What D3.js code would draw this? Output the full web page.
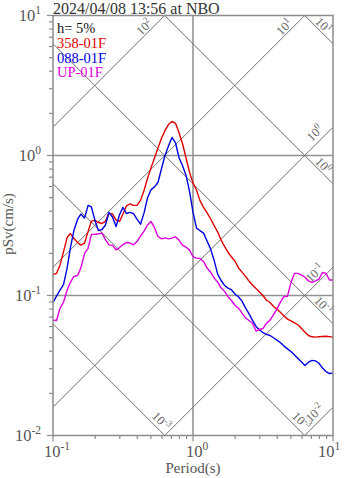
<!DOCTYPE html>
<html>
<head>
<meta charset="utf-8">
<script src="https://cdn.jsdelivr.net/npm/d3@7"></script>
<style>
  html, body { margin: 0; padding: 0; background: #fff; }
  svg { display: block; }
  text { font-family: "Liberation Serif", "Times New Roman", serif; }
</style>
</head>
<body>
<svg id="chart" width="347" height="478"></svg>
<script>
// Pseudo-velocity response spectra (h = 5%), tripartite log-log plot.

// Natural periods (s)
const periods = [0.100,0.106,0.112,0.119,0.126,0.133,0.141,0.150,0.158,0.168,
  0.178,0.188,0.200,0.211,0.224,0.237,0.251,0.266,0.282,0.299,
  0.316,0.335,0.355,0.376,0.398,0.422,0.447,0.473,0.501,0.531,
  0.562,0.596,0.631,0.668,0.708,0.750,0.794,0.841,0.891,0.944,
  1.00,1.06,1.12,1.19,1.26,1.33,1.41,1.50,1.58,1.68,
  1.78,1.88,2.00,2.11,2.24,2.37,2.51,2.66,2.82,2.99,
  3.16,3.35,3.55,3.76,3.98,4.22,4.47,4.73,5.01,5.31,
  5.62,5.96,6.31,6.68,7.08,7.50,7.94,8.41,8.91,9.44,10.0];

// pSv (cm/s) per component
const psv358 = [0.141,0.144,0.164,0.206,0.259,0.277,0.255,0.239,0.229,0.237,
  0.286,0.340,0.344,0.332,0.327,0.340,0.386,0.383,0.346,0.338,
  0.382,0.437,0.451,0.440,0.440,0.478,0.562,0.686,0.813,0.959,
  1.132,1.327,1.510,1.664,1.750,1.698,1.459,1.219,0.964,0.762,
  0.635,0.566,0.478,0.426,0.390,0.356,0.318,0.284,0.252,0.224,
  0.203,0.189,0.175,0.158,0.147,0.137,0.127,0.119,0.112,0.106,
  0.100,0.0925,0.0891,0.0834,0.0800,0.0757,0.0714,0.0678,0.0658,0.0638,
  0.0618,0.0581,0.0547,0.0518,0.0507,0.0504,0.0508,0.0510,0.0512,0.0508,0.0504];

const psv088 = [0.0891,0.0991,0.109,0.120,0.156,0.218,0.291,0.351,0.382,0.358,
  0.440,0.429,0.340,0.291,0.296,0.319,0.392,0.364,0.311,0.379,
  0.426,0.385,0.392,0.384,0.351,0.323,0.389,0.497,0.569,0.597,
  0.641,0.807,1.000,1.169,1.345,1.233,0.968,0.849,0.724,0.557,
  0.394,0.303,0.291,0.279,0.245,0.217,0.181,0.142,0.129,0.118,
  0.113,0.110,0.102,0.0980,0.0912,0.0815,0.0743,0.0664,0.0601,0.0567,
  0.0544,0.0528,0.0518,0.0499,0.0480,0.0460,0.0435,0.0416,0.0398,0.0376,
  0.0355,0.0335,0.0316,0.0334,0.0344,0.0341,0.0328,0.0303,0.0286,0.0277,0.0279];

const psvUP = [0.0667,0.0663,0.0807,0.0899,0.109,0.124,0.137,0.139,0.157,0.200,
  0.217,0.273,0.274,0.276,0.279,0.251,0.230,0.228,0.212,0.220,
  0.231,0.239,0.237,0.230,0.243,0.266,0.288,0.319,0.338,0.305,
  0.264,0.254,0.258,0.254,0.257,0.263,0.249,0.229,0.222,0.211,
  0.189,0.185,0.184,0.175,0.157,0.148,0.134,0.125,0.114,0.107,
  0.0980,0.0921,0.0849,0.0815,0.0748,0.0693,0.0663,0.0634,0.0557,0.0572,
  0.0581,0.0634,0.0667,0.0731,0.0800,0.0901,0.0984,0.0987,0.124,0.144,
  0.144,0.140,0.135,0.127,0.124,0.127,0.131,0.146,0.144,0.129,0.129];

const seriesNames = ["358-01F", "088-01F", "UP-01F"];
const seriesColors = ["#e00000", "#0000e0", "#e000e0"];
const seriesValues = [psv358, psv088, psvUP];

// Constant pseudo-acceleration (cm/s^2) and displacement (cm) guide lines
const accelLevels = [0.01, 0.1, 1, 10, 100];
const accelLabels = [["10","-2"],["10","-1"],["10","0"],["10","1"],["10","2"]];
const dispLevels = [0.001, 0.01, 0.1, 1, 10];
const dispLabels = [["10","-3"],["10","-3"],["10","-1"],["10","0"],["10","1"]];

// Axis decades (exponents)
const xTickExp = [-1, 0, 1];
const yTickExp = [-2, -1, 0, 1];

const titleText = "2024/04/08 13:56 at NBO";
const dampingText = "h= 5%";

// ---------------------------------------------------------------
const svg = d3.select("#chart");
const pLeft = 53, pRight = 333, pTop = 15.5, pBottom = 435.5;
const x = d3.scaleLog().domain([0.1, 10]).range([pLeft, pRight]);
const y = d3.scaleLog().domain([0.01, 10]).range([pBottom, pTop]);
const TWO_PI = 2 * Math.PI;

svg.append("rect").attr("width", 347).attr("height", 478).attr("fill", "#fff");

svg.append("defs").append("clipPath").attr("id", "plotClip")
  .append("rect").attr("x", pLeft).attr("y", pTop)
  .attr("width", pRight - pLeft).attr("height", pBottom - pTop);

const plot = svg.append("g").attr("clip-path", "url(#plotClip)");

// decade grid
const gridCol = "#939393";
[1].forEach(v => plot.append("line")
  .attr("x1", x(v)).attr("x2", x(v)).attr("y1", pTop).attr("y2", pBottom)
  .attr("stroke", gridCol).attr("stroke-width", 1.6));
[0.1, 1].forEach(v => plot.append("line")
  .attr("x1", pLeft).attr("x2", pRight).attr("y1", y(v)).attr("y2", y(v))
  .attr("stroke", gridCol).attr("stroke-width", 1.6));

// diagonal guides
const diagCol = "#707070";
const Tmin = 0.1, Tmax = 10;
accelLevels.forEach(a => {
  const f = T => a * T / TWO_PI;
  plot.append("line")
    .attr("x1", x(Tmin)).attr("y1", y(f(Tmin)))
    .attr("x2", x(Tmax)).attr("y2", y(f(Tmax)))
    .attr("stroke", diagCol).attr("stroke-width", 1);
});
dispLevels.forEach(d => {
  const f = T => TWO_PI * d / T;
  plot.append("line")
    .attr("x1", x(Tmin)).attr("y1", y(f(Tmin)))
    .attr("x2", x(Tmax)).attr("y2", y(f(Tmax)))
    .attr("stroke", diagCol).attr("stroke-width", 1);
});

function supText(g, cx, cy, base, sup, size, angle, fill, anchor) {
  const t = g.append("text")
    .attr("transform", `translate(${cx},${cy}) rotate(${angle})`)
    .attr("text-anchor", anchor || "middle")
    .attr("dy", "0.35em")
    .attr("font-size", size)
    .attr("fill", fill);
  t.append("tspan").text(base);
  t.append("tspan").attr("dy", -size * 0.4).attr("font-size", size * 0.72).text(sup);
  return t;
}

const diagLabelCol = "#666";
const diagFont = 12.5;
const r2 = Math.SQRT1_2;
accelLevels.forEach((a, i) => {
  let ex, ey, along, off;
  const yEnd = y(a * Tmax / TWO_PI);
  if (yEnd < pTop) { ex = x(TWO_PI * 10 / a); ey = pTop; along = 16; off = 6.5; }
  else { ex = pRight; ey = yEnd; along = 12; off = 9; }
  const px = ex - along, py = ey + along;
  supText(svg, px - off * r2, py - off * r2, accelLabels[i][0], accelLabels[i][1], diagFont, -45, diagLabelCol);
});
dispLevels.forEach((d, i) => {
  let ex, ey, along, off;
  const yEnd = y(TWO_PI * d / Tmax);
  if (yEnd > pBottom) { ex = x(TWO_PI * d / 0.01); ey = pBottom; along = 9; off = 8; }
  else { ex = pRight; ey = yEnd; along = 14; off = 6.5; }
  const px = ex - along, py = ey - along;
  supText(svg, px + off * r2, py - off * r2, dispLabels[i][0], dispLabels[i][1], diagFont, 45, diagLabelCol);
});

// spectra
const line = d3.line().x(d => x(d[0])).y(d => y(d[1]));
seriesValues.forEach((vals, i) => {
  plot.append("path")
    .datum(periods.map((p, j) => [p, vals[j]]))
    .attr("d", line)
    .attr("fill", "none")
    .attr("stroke", seriesColors[i])
    .attr("stroke-width", 1.4)
    .attr("stroke-linejoin", "round");
});

// frame
svg.append("rect").attr("x", pLeft).attr("y", pTop)
  .attr("width", pRight - pLeft).attr("height", pBottom - pTop)
  .attr("fill", "none").attr("stroke", "#8c8c8c").attr("stroke-width", 1.5);

// ticks
const tickCol = "#8c8c8c";
const minors = [2, 3, 4, 5, 6, 7, 8, 9];
xTickExp.forEach(e => {
  const v = Math.pow(10, e);
  svg.append("line").attr("x1", x(v)).attr("x2", x(v))
    .attr("y1", pBottom).attr("y2", pBottom + 6).attr("stroke", tickCol).attr("stroke-width", 1.2);
  if (e < 1) minors.forEach(m => svg.append("line")
    .attr("x1", x(v * m)).attr("x2", x(v * m))
    .attr("y1", pBottom).attr("y2", pBottom + 3.5).attr("stroke", tickCol).attr("stroke-width", 1.2));
});
yTickExp.forEach(e => {
  const v = Math.pow(10, e);
  svg.append("line").attr("x1", pLeft - 6).attr("x2", pLeft)
    .attr("y1", y(v)).attr("y2", y(v)).attr("stroke", tickCol).attr("stroke-width", 1.2);
  if (e < 1) minors.forEach(m => svg.append("line")
    .attr("x1", pLeft - 4).attr("x2", pLeft)
    .attr("y1", y(v * m)).attr("y2", y(v * m)).attr("stroke", tickCol).attr("stroke-width", 1.2));
});

// tick labels
const axisTextCol = "#555";
xTickExp.forEach(e => {
  const cx = Math.min(x(Math.pow(10, e)) + 4, 329);
  const t = svg.append("text").attr("x", cx).attr("y", 457)
    .attr("text-anchor", "middle").attr("font-size", 16.5).attr("fill", axisTextCol);
  t.append("tspan").text("10");
  t.append("tspan").attr("dy", -7).attr("font-size", 11.5).text(String(e));
});
yTickExp.forEach(e => {
  const t = svg.append("text").attr("x", 41).attr("y", y(Math.pow(10, e)) + 5)
    .attr("text-anchor", "end").attr("font-size", 16.5).attr("fill", axisTextCol);
  t.append("tspan").text("10");
  t.append("tspan").attr("dy", -7).attr("font-size", 11.5).text(String(e));
});

// axis titles
svg.append("text").attr("x", 193).attr("y", 473).attr("text-anchor", "middle")
  .attr("font-size", 15).attr("fill", axisTextCol).text("Period(s)");
svg.append("text").attr("transform", "translate(13,224) rotate(-90)")
  .attr("text-anchor", "middle").attr("font-size", 15).attr("fill", axisTextCol)
  .text("pSv(cm/s)");

// title
svg.append("text").attr("x", 53).attr("y", 14).attr("font-size", 16)
  .attr("fill", "#333").text(titleText);

// legend
svg.append("text").attr("x", 57).attr("y", 33).attr("font-size", 14.5)
  .attr("fill", "#111").text(dampingText);
seriesNames.forEach((n, i) => {
  svg.append("text").attr("x", 57).attr("y", 48 + i * 14.7).attr("font-size", 14.5)
    .attr("fill", seriesColors[i]).text(n);
});
</script>
</body>
</html>
